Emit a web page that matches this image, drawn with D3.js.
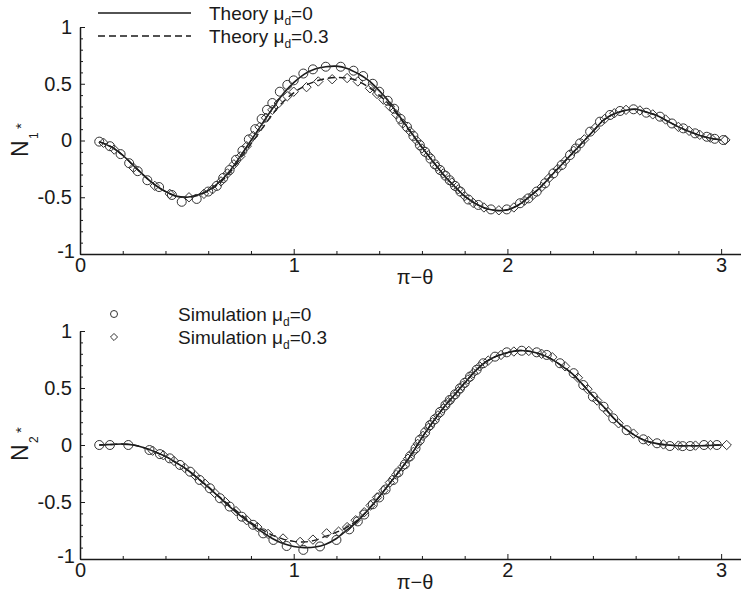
<!DOCTYPE html>
<html>
<head>
<meta charset="utf-8">
<script src="https://cdn.jsdelivr.net/npm/d3@7"></script>
<style>
  body { margin: 0; background: #fff; }
  svg text { font-family: 'Liberation Sans', Arial, sans-serif; fill: #1a1a1a; }
</style>
</head>
<body>
<div id="chart"></div>
<script>

////////////////////////////////////////////////////////////
// Data: [pi - theta, N*]
////////////////////////////////////////////////////////////

const x_ticks = [0, 1, 2, 3]
const y_ticks = [-1, -0.5, 0, 0.5, 1]

const n1_theory_mu0 = [
  [0.09, -0.01], [0.15, -0.06], [0.2, -0.13], [0.25, -0.22], [0.3, -0.31], [0.35, -0.39],
  [0.4, -0.45], [0.45, -0.49], [0.5, -0.5], [0.55, -0.48], [0.6, -0.44], [0.65, -0.37],
  [0.7, -0.27], [0.75, -0.14], [0.8, 0.0], [0.85, 0.14], [0.9, 0.28], [0.95, 0.41],
  [1.0, 0.51], [1.05, 0.585], [1.1, 0.63], [1.15, 0.65], [1.2, 0.655], [1.25, 0.635],
  [1.3, 0.59], [1.35, 0.53], [1.4, 0.44], [1.45, 0.33], [1.5, 0.2], [1.55, 0.07],
  [1.6, -0.06], [1.65, -0.18], [1.7, -0.3], [1.75, -0.4], [1.8, -0.49], [1.85, -0.555],
  [1.9, -0.6], [1.95, -0.617], [2.0, -0.61], [2.05, -0.57], [2.1, -0.5], [2.15, -0.42],
  [2.2, -0.32], [2.25, -0.22], [2.3, -0.12], [2.35, -0.02], [2.4, 0.08], [2.45, 0.18],
  [2.5, 0.235], [2.55, 0.265], [2.6, 0.275], [2.65, 0.25], [2.7, 0.22], [2.75, 0.17],
  [2.8, 0.12], [2.85, 0.08], [2.9, 0.045], [2.95, 0.02], [3.0, 0.005]
]

const n1_theory_mu03 = [
  [0.09, -0.01], [0.15, -0.06], [0.2, -0.13], [0.25, -0.22], [0.3, -0.31], [0.35, -0.39],
  [0.4, -0.45], [0.45, -0.49], [0.5, -0.5], [0.55, -0.485], [0.6, -0.445], [0.65, -0.38],
  [0.7, -0.285], [0.75, -0.16], [0.8, -0.03], [0.85, 0.1], [0.9, 0.23], [0.95, 0.34],
  [1.0, 0.42], [1.05, 0.48], [1.1, 0.52], [1.15, 0.545], [1.2, 0.555], [1.25, 0.55],
  [1.3, 0.525], [1.35, 0.47], [1.4, 0.4], [1.45, 0.31], [1.5, 0.19], [1.55, 0.065],
  [1.6, -0.06], [1.65, -0.18], [1.7, -0.3], [1.75, -0.4], [1.8, -0.49], [1.85, -0.555],
  [1.9, -0.6], [1.95, -0.617], [2.0, -0.61], [2.05, -0.57], [2.1, -0.5], [2.15, -0.42],
  [2.2, -0.32], [2.25, -0.22], [2.3, -0.12], [2.35, -0.02], [2.4, 0.08], [2.45, 0.18],
  [2.5, 0.235], [2.55, 0.265], [2.6, 0.275], [2.65, 0.25], [2.7, 0.22], [2.75, 0.17],
  [2.8, 0.12], [2.85, 0.08], [2.9, 0.045], [2.95, 0.02], [3.0, 0.005]
]

const n1_sim_mu0 = [
  [0.09, -0.01], [0.14, -0.05], [0.19, -0.12], [0.23, -0.2], [0.27, -0.27], [0.315, -0.35],
  [0.37, -0.41], [0.43, -0.48], [0.476, -0.54], [0.546, -0.515], [0.6, -0.45], [0.64, -0.4],
  [0.67, -0.33], [0.7, -0.26], [0.73, -0.17], [0.76, -0.09], [0.79, 0.01], [0.82, 0.1],
  [0.85, 0.19], [0.875, 0.27], [0.9, 0.33], [0.935, 0.43], [0.97, 0.49], [1.0, 0.53],
  [1.045, 0.59], [1.09, 0.627], [1.15, 0.65], [1.22, 0.65], [1.28, 0.615], [1.325, 0.568],
  [1.37, 0.5], [1.4, 0.43], [1.44, 0.35], [1.47, 0.28], [1.5, 0.19], [1.53, 0.12],
  [1.56, 0.04], [1.59, -0.04], [1.615, -0.1], [1.64, -0.16], [1.66, -0.21], [1.685, -0.26],
  [1.71, -0.31], [1.73, -0.35], [1.755, -0.4], [1.78, -0.45], [1.817, -0.52], [1.864, -0.568],
  [1.923, -0.607], [1.997, -0.607], [2.059, -0.553], [2.098, -0.51], [2.137, -0.45], [2.176, -0.377],
  [2.215, -0.29], [2.254, -0.216], [2.293, -0.128], [2.32, -0.07], [2.34, -0.025], [2.387, 0.078],
  [2.433, 0.166], [2.48, 0.225], [2.527, 0.26], [2.59, 0.275], [2.65, 0.245], [2.714, 0.21],
  [2.77, 0.15], [2.823, 0.107], [2.878, 0.063], [2.933, 0.033], [2.97, 0.015], [3.01, 0.004]
]

const n1_sim_mu03 = [
  [0.11, -0.02], [0.16, -0.08], [0.25, -0.24], [0.35, -0.4], [0.42, -0.47], [0.51, -0.5],
  [0.58, -0.47], [0.62, -0.43], [0.66, -0.36], [0.69, -0.29], [0.72, -0.21], [0.75, -0.14],
  [0.78, -0.05], [0.81, 0.04], [0.84, 0.12], [0.87, 0.2], [0.9, 0.27], [0.93, 0.33],
  [0.97, 0.39], [1.0, 0.43], [1.06, 0.47], [1.115, 0.52], [1.18, 0.54], [1.25, 0.55],
  [1.3, 0.52], [1.357, 0.46], [1.39, 0.41], [1.42, 0.36], [1.45, 0.3], [1.48, 0.23],
  [1.51, 0.15], [1.545, 0.08], [1.575, 0.0], [1.6, -0.07], [1.63, -0.13], [1.67, -0.23],
  [1.7, -0.29], [1.74, -0.37], [1.77, -0.43], [1.8, -0.49], [1.84, -0.55], [1.89, -0.59],
  [1.96, -0.615], [2.03, -0.59], [2.08, -0.53], [2.12, -0.48], [2.16, -0.41], [2.195, -0.33],
  [2.235, -0.25], [2.27, -0.18], [2.31, -0.09], [2.36, 0.01], [2.41, 0.11], [2.455, 0.19],
  [2.5, 0.24], [2.555, 0.27], [2.62, 0.265], [2.68, 0.23], [2.74, 0.185], [2.8, 0.12],
  [2.85, 0.085], [2.9, 0.05], [2.95, 0.025], [3.02, 0.005]
]

const n2_theory_mu0 = [
  [0.09, 0.0], [0.15, 0.005], [0.2, 0.008], [0.25, 0.0], [0.3, -0.025], [0.35, -0.06],
  [0.4, -0.1], [0.45, -0.155], [0.5, -0.215], [0.55, -0.29], [0.6, -0.37], [0.65, -0.455],
  [0.7, -0.54], [0.75, -0.62], [0.8, -0.69], [0.85, -0.76], [0.9, -0.82], [0.95, -0.865],
  [1.0, -0.89], [1.05, -0.9], [1.1, -0.895], [1.15, -0.87], [1.2, -0.82], [1.25, -0.745],
  [1.3, -0.665], [1.35, -0.565], [1.4, -0.455], [1.45, -0.335], [1.5, -0.215], [1.55, -0.085],
  [1.6, 0.065], [1.65, 0.2], [1.7, 0.325], [1.75, 0.435], [1.8, 0.545], [1.85, 0.65],
  [1.9, 0.73], [1.95, 0.78], [2.0, 0.81], [2.05, 0.828], [2.1, 0.823], [2.15, 0.8],
  [2.2, 0.76], [2.25, 0.7], [2.3, 0.63], [2.35, 0.535], [2.4, 0.43], [2.45, 0.335],
  [2.5, 0.23], [2.55, 0.145], [2.6, 0.08], [2.65, 0.035], [2.7, 0.012], [2.75, 0.0],
  [2.8, -0.006], [2.9, -0.006], [3.0, 0.0]
]

const n2_theory_mu03 = [
  [0.09, 0.0], [0.15, 0.005], [0.2, 0.008], [0.25, 0.0], [0.3, -0.025], [0.35, -0.06],
  [0.4, -0.1], [0.45, -0.155], [0.5, -0.215], [0.55, -0.29], [0.6, -0.365], [0.65, -0.45],
  [0.7, -0.53], [0.75, -0.605], [0.8, -0.68], [0.85, -0.74], [0.9, -0.79], [0.95, -0.825],
  [1.0, -0.845], [1.05, -0.85], [1.1, -0.835], [1.15, -0.8], [1.2, -0.765], [1.25, -0.72],
  [1.3, -0.655], [1.35, -0.565], [1.4, -0.455], [1.45, -0.335], [1.5, -0.215], [1.55, -0.085],
  [1.6, 0.065], [1.65, 0.2], [1.7, 0.325], [1.75, 0.435], [1.8, 0.545], [1.85, 0.65],
  [1.9, 0.73], [1.95, 0.78], [2.0, 0.81], [2.05, 0.828], [2.1, 0.823], [2.15, 0.8],
  [2.2, 0.76], [2.25, 0.7], [2.3, 0.63], [2.35, 0.535], [2.4, 0.43], [2.45, 0.335],
  [2.5, 0.23], [2.55, 0.145], [2.6, 0.08], [2.65, 0.035], [2.7, 0.012], [2.75, 0.0],
  [2.8, -0.006], [2.9, -0.006], [3.0, 0.0]
]

const n2_sim_mu0 = [
  [0.09, 0.0], [0.14, 0.0], [0.226, 0.0], [0.325, -0.044], [0.374, -0.08], [0.42, -0.117],
  [0.468, -0.175], [0.515, -0.234], [0.56, -0.307], [0.608, -0.38], [0.655, -0.467], [0.7, -0.54],
  [0.757, -0.629], [0.81, -0.7], [0.857, -0.775], [0.905, -0.833], [0.967, -0.886], [1.045, -0.92],
  [1.123, -0.89], [1.2, -0.833], [1.26, -0.74], [1.3, -0.67], [1.33, -0.61], [1.37, -0.52],
  [1.4, -0.46], [1.43, -0.39], [1.466, -0.307], [1.49, -0.24], [1.52, -0.17], [1.544, -0.1],
  [1.57, -0.03], [1.59, 0.044], [1.615, 0.11], [1.638, 0.175], [1.66, 0.225], [1.685, 0.29],
  [1.71, 0.35], [1.73, 0.395], [1.755, 0.445], [1.778, 0.497], [1.8, 0.545], [1.825, 0.6],
  [1.856, 0.66], [1.887, 0.717], [1.942, 0.775], [1.997, 0.813], [2.067, 0.827], [2.137, 0.813],
  [2.184, 0.79], [2.246, 0.717], [2.31, 0.63], [2.355, 0.526], [2.4, 0.424], [2.45, 0.336],
  [2.495, 0.234], [2.558, 0.13], [2.636, 0.05], [2.7, 0.015], [2.76, -0.009], [2.82, -0.01],
  [2.855, -0.009], [2.92, 0.0], [2.98, 0.0]
]

const n2_sim_mu03 = [
  [0.34, -0.05], [0.39, -0.09], [0.44, -0.14], [0.49, -0.2], [0.54, -0.27], [0.585, -0.34],
  [0.63, -0.42], [0.68, -0.5], [0.73, -0.58], [0.78, -0.66], [0.83, -0.72], [0.88, -0.78],
  [0.95, -0.82], [1.03, -0.85], [1.09, -0.83], [1.154, -0.775], [1.21, -0.76], [1.25, -0.72],
  [1.29, -0.66], [1.33, -0.59], [1.36, -0.53], [1.39, -0.46], [1.42, -0.4], [1.45, -0.33],
  [1.48, -0.26], [1.51, -0.19], [1.535, -0.12], [1.56, -0.06], [1.58, 0.01], [1.605, 0.08],
  [1.63, 0.15], [1.65, 0.2], [1.675, 0.26], [1.7, 0.32], [1.72, 0.37], [1.745, 0.42],
  [1.77, 0.47], [1.79, 0.52], [1.815, 0.575], [1.84, 0.63], [1.87, 0.69], [1.91, 0.74],
  [1.97, 0.79], [2.03, 0.82], [2.1, 0.825], [2.16, 0.8], [2.21, 0.77], [2.27, 0.69],
  [2.33, 0.59], [2.375, 0.49], [2.42, 0.39], [2.47, 0.29], [2.52, 0.19], [2.59, 0.1],
  [2.66, 0.035], [2.73, 0.005], [2.8, -0.005], [2.88, -0.005], [2.95, 0.0], [3.026, 0.0]
]

////////////////////////////////////////////////////////////
// Layout
////////////////////////////////////////////////////////////

const W = 741
const H = 596
const ink = '#1a1a1a'

let svg = d3.select('#chart')
  .append('svg')
  .attr('width', W)
  .attr('height', H)

let x_scale = d3.scaleLinear().domain([0, 3.1]).range([80, 742.5])

let diamond = d3.symbol().type(d3.symbolDiamond2).size(56)

////////////////////////////////////////////////////////////
// Panel
////////////////////////////////////////////////////////////

function draw_panel(top, bottom, sub, theory0, theory03, sim0, sim03) {

  let y_scale = d3.scaleLinear().domain([-1, 1]).range([bottom, top])
  let g = svg.append('g')

  // Minor ticks
  let x_minor = d3.range(0, 3.01, 0.2).filter(v => Math.abs(v - Math.round(v)) > 0.01)
  let y_minor = d3.range(-1, 1.001, 0.1).filter(v => Math.abs(v * 2 - Math.round(v * 2)) > 0.01)

  g.append('g')
    .attr('transform', `translate(0,${bottom})`)
    .call(d3.axisBottom(x_scale).tickValues(x_minor).tickSize(-3).tickFormat(''))
    .call(a => a.select('.domain').remove())

  g.append('g')
    .attr('transform', `translate(${x_scale(0)},0)`)
    .call(d3.axisLeft(y_scale).tickValues(y_minor).tickSize(-3).tickFormat(''))
    .call(a => a.select('.domain').remove())

  // Major axes
  let x_axis = g.append('g')
    .attr('transform', `translate(0,${bottom})`)
    .call(d3.axisBottom(x_scale).tickValues(x_ticks).tickSizeInner(-5).tickSizeOuter(0)
      .tickPadding(4).tickFormat(d => String(d)))

  let y_axis = g.append('g')
    .attr('transform', `translate(${x_scale(0)},0)`)
    .call(d3.axisLeft(y_scale).tickValues(y_ticks).tickSizeInner(-5).tickSizeOuter(0)
      .tickPadding(8).tickFormat(d => String(d)))

  g.selectAll('.tick line').attr('stroke', ink).attr('stroke-width', 1)
  g.selectAll('.domain').attr('stroke', ink).attr('stroke-width', 1.5)
  g.selectAll('.tick text')
    .attr('font-size', 20)
    .attr('font-family', "'Liberation Sans', Arial, sans-serif")
    .attr('fill', ink)

  // the -1 label sits a little up and right, as in the source
  y_axis.selectAll('.tick text')
    .filter(d => d === -1)
    .attr('x', -5)
    .attr('y', -3)

  // Axis titles
  g.append('text')
    .attr('x', 415)
    .attr('y', bottom + 30)
    .attr('text-anchor', 'middle')
    .attr('font-size', 20)
    .attr('font-family', "'DejaVu Sans', sans-serif")
    .text('π−θ')

  let y_title = g.append('g')
    .attr('transform', `translate(28,${top + 130}) rotate(-90)`)
  y_title.append('text')
    .attr('font-size', 23)
    .text('N')
  y_title.append('text')
    .attr('x', 18)
    .attr('y', 10)
    .attr('font-size', 12)
    .text(sub)
  y_title.append('text')
    .attr('x', 28)
    .attr('y', -2)
    .attr('font-size', 15)
    .text('*')

  // Theory curves
  let line = d3.line()
    .x(d => x_scale(d[0]))
    .y(d => y_scale(d[1]))
    .curve(d3.curveCatmullRom)

  g.append('path')
    .datum(theory03)
    .attr('d', line)
    .attr('fill', 'none')
    .attr('stroke', ink)
    .attr('stroke-width', 1.4)
    .attr('stroke-dasharray', '7,4')

  g.append('path')
    .datum(theory0)
    .attr('d', line)
    .attr('fill', 'none')
    .attr('stroke', ink)
    .attr('stroke-width', 1.6)

  // Simulation markers
  g.selectAll('.sim-dia')
    .data(sim03)
    .enter()
    .append('path')
      .attr('class', 'sim-dia')
      .attr('d', diamond)
      .attr('transform', d => `translate(${x_scale(d[0])},${y_scale(d[1])})`)
      .attr('fill', 'none')
      .attr('stroke', '#333')
      .attr('stroke-width', 1)

  g.selectAll('.sim-circ')
    .data(sim0)
    .enter()
    .append('circle')
      .attr('class', 'sim-circ')
      .attr('cx', d => x_scale(d[0]))
      .attr('cy', d => y_scale(d[1]))
      .attr('r', 4.5)
      .attr('fill', 'none')
      .attr('stroke', '#333')
      .attr('stroke-width', 1)
}

draw_panel(27, 254, '1', n1_theory_mu0, n1_theory_mu03, n1_sim_mu0, n1_sim_mu03)
draw_panel(331, 559, '2', n2_theory_mu0, n2_theory_mu03, n2_sim_mu0, n2_sim_mu03)

////////////////////////////////////////////////////////////
// Legends
////////////////////////////////////////////////////////////

function legend_label(x, y, head, tail) {
  let t = svg.append('text')
    .attr('x', x)
    .attr('y', y)
    .attr('font-size', 19)
  t.append('tspan').text(head)
  t.append('tspan').attr('dy', 5).attr('font-size', 12).text('d')
  t.append('tspan').attr('dy', -5).text(tail)
}

svg.append('line')
  .attr('x1', 98).attr('x2', 191).attr('y1', 13).attr('y2', 13)
  .attr('stroke', ink).attr('stroke-width', 1.6)
svg.append('line')
  .attr('x1', 98).attr('x2', 191).attr('y1', 36).attr('y2', 36)
  .attr('stroke', ink).attr('stroke-width', 1.4).attr('stroke-dasharray', '7,4')
legend_label(209, 20, 'Theory μ', '=0')
legend_label(209, 43, 'Theory μ', '=0.3')

svg.append('circle')
  .attr('cx', 114).attr('cy', 314).attr('r', 3.5)
  .attr('fill', 'none').attr('stroke', '#333').attr('stroke-width', 1)
svg.append('path')
  .attr('d', d3.symbol().type(d3.symbolDiamond2).size(32))
  .attr('transform', 'translate(114,337)')
  .attr('fill', 'none').attr('stroke', '#333').attr('stroke-width', 1)
legend_label(178, 321, 'Simulation μ', '=0')
legend_label(178, 344, 'Simulation μ', '=0.3')

</script>
</body>
</html>
